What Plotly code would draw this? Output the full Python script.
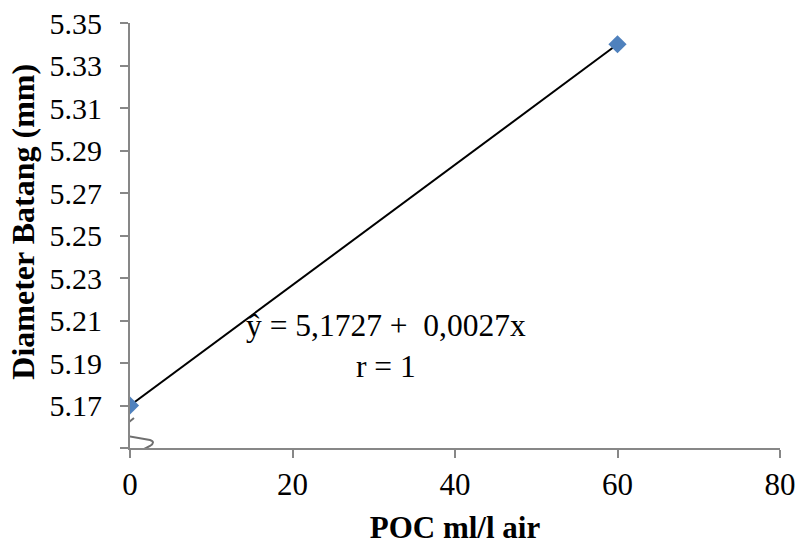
import numpy as np
import plotly.graph_objects as go

# Data
poc = [0, 60]
diameter = [5.17, 5.34]
y_ticks = [5.15, 5.17, 5.19, 5.21, 5.23, 5.25, 5.27, 5.29, 5.31, 5.33, 5.35]
y_tick_labels = ["", "5.17", "5.19", "5.21", "5.23", "5.25", "5.27", "5.29", "5.31", "5.33", "5.35"]
x_ticks = [0, 20, 40, 60, 80]
equation_text = "ŷ = 5,1727 +  0,0027x<br>r = 1"
x_title = "POC ml/l air"
y_title = "Diameter Batang (mm)"

FONT = "Liberation Serif, Times New Roman, serif"

# trend line from linear fit of the data
coef = np.polyfit(poc, diameter, 1)
trend_x = [min(poc), max(poc)]
trend_y = [coef[1] + coef[0] * v for v in trend_x]

fig = go.Figure()
fig.add_trace(go.Scatter(
    x=trend_x, y=trend_y, mode="lines",
    line=dict(color="black", width=2), showlegend=False, hoverinfo="skip"))
fig.add_trace(go.Scatter(
    x=poc, y=diameter, mode="markers",
    marker=dict(symbol="diamond", size=14, color="#4F81BD"),
    showlegend=False))

# axis break mask and squiggle
fig.add_shape(type="rect", xref="x", yref="y",
              x0=-0.12, x1=2.83, y0=5.14906, y1=5.16506,
              fillcolor="white", line=dict(width=0), layer="above")
fig.add_shape(type="path", xref="x", yref="y",
              path="M 0.49,5.16412 L -1.35,5.15847 Q -1.72,5.15659 -0.98,5.15612 "
                   "L 2.46,5.15376 Q 3.2,5.15282 2.46,5.15094 L -0.74,5.14482",
              line=dict(color="#6f6f6f", width=2), layer="above")

fig.add_annotation(x=31.5, y=5.1978, xref="x", yref="y",
                   text=equation_text, showarrow=False, align="center",
                   font=dict(family=FONT, size=31.5, color="black"))

# y-axis title (placed as annotation for exact position)
fig.add_annotation(x=-0.165, y=0.532, xref="paper", yref="paper",
                   text="<b>" + y_title + "</b>", textangle=-90, showarrow=False,
                   xanchor="center", yanchor="middle",
                   font=dict(family=FONT, size=32, color="black"))

fig.update_xaxes(
    range=[0, 80], tickvals=x_ticks, showgrid=False, zeroline=False,
    showline=True, linecolor="#878787", linewidth=2, automargin=False,
    ticks="outside", ticklen=8, tickwidth=2, tickcolor="#878787",
    ticklabelstandoff=0,
    tickfont=dict(family=FONT, size=31, color="black"),
    title=dict(text="<b>" + x_title + "</b>", standoff=23,
               font=dict(family=FONT, size=31, color="black")))
fig.update_yaxes(
    range=[5.15, 5.35], tickvals=y_ticks, ticktext=y_tick_labels,
    showgrid=False, zeroline=False, automargin=False,
    showline=True, linecolor="#878787", linewidth=2,
    ticks="outside", ticklen=8, tickwidth=2, tickcolor="#878787",
    ticklabelstandoff=12,
    tickfont=dict(family=FONT, size=30, color="black"))

fig.update_layout(
    width=798, height=545,
    margin=dict(l=130, r=18, t=23, b=97),
    paper_bgcolor="white", plot_bgcolor="white",
)

fig.write_html("out.html", config={"displayModeBar": False},
               post_script="document.body.style.margin='0px';")
